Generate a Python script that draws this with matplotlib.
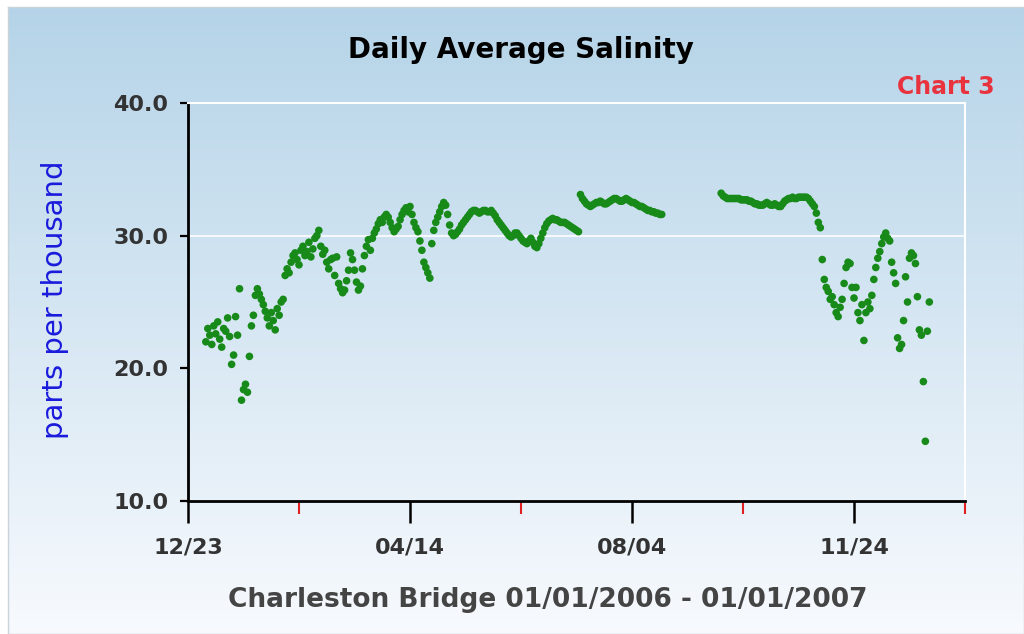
import numpy as np
import matplotlib
matplotlib.use('Agg')
import matplotlib.pyplot as plt
from datetime import datetime

# salinidad diaria (ppt), cada lista empieza en su fecha y sigue dia a dia
ene_feb_inicio = '2006-01-01'
ene_feb = [22.0, 23.0, 22.5, 21.8, 23.2, 22.6, 23.5, 22.2, 21.6, 23.0,
           22.8, 23.8, 22.4, 20.3, 21.0, 23.9, 22.5, 26.0, 17.6, 18.4,
           18.8, 18.2, 20.9, 23.2, 24.0, 25.5, 26.0, 25.6, 25.2, 24.8,
           24.3, 23.8, 23.2, 24.2, 23.6, 22.9, 24.5, 24.0, 25.0, 25.2]

feb_mar_inicio = '2006-02-10'
feb_mar = [27.0, 27.5, 27.2, 28.0, 28.5, 28.7, 28.2, 27.8, 28.9, 29.2,
           28.5, 28.8, 29.5, 28.4, 29.0, 29.8, 30.0, 30.4, 29.2, 28.6,
           28.9, 28.0]

mar_inicio = '2006-03-04'
mar = [27.5, 28.2, 28.3, 27.0, 28.4, 26.4, 26.0, 25.7, 25.9, 26.6,
       27.4, 28.7, 28.2, 27.4, 26.5, 25.9, 26.2, 27.5, 28.5, 29.2,
       29.7, 28.9, 29.8]

abr_may_inicio = '2006-03-27'
abr_may = [30.2, 30.5, 30.9, 31.2, 31.0, 31.4, 31.6, 31.4, 31.0, 30.6,
           30.3, 30.5, 30.7, 31.2, 31.6, 31.9, 32.1, 31.8, 32.2, 31.6,
           31.0, 30.6, 30.3, 29.6, 28.9, 28.0, 27.6, 27.2, 26.8, 29.4,
           30.4, 31.0, 31.4, 31.8, 32.2, 32.5, 32.3, 31.6, 30.8, 30.2,
           30.0, 30.1]

may_jul_inicio = '2006-05-08'
may_jul = [30.3, 30.5, 30.8, 31.0, 31.2, 31.4, 31.6, 31.8, 31.9, 31.9,
           31.8, 31.7, 31.8, 31.9, 31.9, 31.8, 31.8, 31.9, 31.7, 31.5,
           31.2, 31.0, 30.8, 30.6, 30.4, 30.2, 30.0, 29.9, 30.0, 30.2,
           30.2, 30.0, 29.8, 29.6, 29.5, 29.4, 29.6, 29.8, 29.5, 29.2,
           29.1, 29.4, 29.8, 30.2, 30.6, 30.9, 31.1, 31.2, 31.3, 31.2,
           31.2, 31.1, 31.0, 31.0, 31.0, 30.9, 30.8, 30.7, 30.6, 30.5,
           30.4, 30.3]

jul_ago_inicio = '2006-07-09'
jul_ago = [33.1, 32.8, 32.6, 32.4, 32.3, 32.2, 32.3, 32.4, 32.5, 32.5,
           32.6, 32.5, 32.4, 32.4, 32.5, 32.6, 32.7, 32.8, 32.8, 32.7,
           32.6, 32.6, 32.7, 32.8, 32.7, 32.6, 32.5, 32.5, 32.4, 32.3,
           32.2, 32.2, 32.1, 32.0, 31.9, 31.9, 31.8, 31.8, 31.7, 31.7,
           31.6, 31.6]

sep_nov_inicio = '2006-09-18'
sep_nov = [33.2, 33.0, 32.9, 32.8, 32.8, 32.8, 32.8, 32.8, 32.8, 32.8,
           32.7, 32.7, 32.7, 32.7, 32.6, 32.6, 32.5, 32.4, 32.4, 32.3,
           32.3, 32.3, 32.4, 32.5, 32.4, 32.3, 32.3, 32.4, 32.3, 32.2,
           32.2, 32.4, 32.6, 32.7, 32.8, 32.8, 32.9, 32.8, 32.8, 32.9,
           32.9, 32.9, 32.9, 32.9, 32.8, 32.6, 32.4, 32.2, 31.7, 31.0,
           30.6]

nov_dic_inicio = '2006-11-08'
nov_dic = [28.2, 26.7, 26.1, 25.8, 25.2, 25.4, 24.8, 24.2, 23.9, 24.6,
           25.2, 26.4, 27.6, 28.0, 27.9, 26.1, 25.3, 26.1, 24.2, 23.6,
           24.8, 22.1, 24.2, 25.0, 24.5, 25.5, 26.7, 27.6, 28.3, 28.8,
           29.4, 29.9, 30.2, 29.8, 29.6, 28.0, 27.2, 26.4, 22.3, 21.5,
           21.8, 23.6, 26.9, 25.0, 28.3, 28.7, 28.5, 27.9, 25.4, 22.9,
           22.5, 19.0, 14.5, 22.8, 25.0]

tramos = [(ene_feb_inicio, ene_feb), (feb_mar_inicio, feb_mar),
          (mar_inicio, mar), (abr_may_inicio, abr_may),
          (may_jul_inicio, may_jul), (jul_ago_inicio, jul_ago),
          (sep_nov_inicio, sep_nov), (nov_dic_inicio, nov_dic)]

etiquetas_x = ['12/23', '04/14', '08/04', '11/24']
fechas_x = ['2005-12-23', '2006-04-14', '2006-08-04', '2006-11-24']
fechas_menores = ['2006-02-17', '2006-06-09', '2006-09-29', '2007-01-19']
ticks_y = [10, 20, 30, 40]


def Main():
    W, H = 1024, 634
    fig = plt.figure(figsize=(W / 100, H / 100), dpi=100, facecolor='white')

    # fondo con degradado azul -> blanco
    fondo = fig.add_axes([8 / W, 0, 1 - 8 / W, (H - 7) / H])
    arriba = np.array([0.71, 0.83, 0.91])
    abajo = np.array([0.97, 0.98, 0.995])
    g = np.linspace(0, 1, 256)[:, None, None]
    img = arriba * (1 - g) + abajo * g
    fondo.imshow(img, aspect='auto', extent=[0, 1, 0, 1])
    fondo.set_xticks([])
    fondo.set_yticks([])
    for s in fondo.spines.values():
        s.set_color('#c9d3da')
        s.set_linewidth(1)

    ax = fig.add_axes([188 / W, 1 - 501 / H, (965 - 188) / W, (501 - 103) / H])
    ax.patch.set_alpha(0)

    for inicio, valores in tramos:
        fechas = np.datetime64(inicio) + np.arange(len(valores))
        ax.scatter(fechas.astype('datetime64[D]').astype(datetime), valores,
                   s=30, color='#178a19', edgecolors='none', zorder=3)

    ax.axhline(30, color='white', lw=1.3, alpha=0.9, zorder=1)

    ax.set_ylim(10, 40)
    ax.set_xlim(datetime(2005, 12, 23), datetime(2007, 1, 19))
    ax.set_yticks(ticks_y)
    ax.set_yticklabels(['%.1f' % v for v in ticks_y], fontweight='bold',
                       color='#333333', fontsize=16)
    ax.set_xticks([datetime.strptime(f, '%Y-%m-%d') for f in fechas_x])
    ax.set_xticklabels(etiquetas_x, fontweight='bold', color='#333333',
                       fontsize=16)
    ax.set_xticks([datetime.strptime(f, '%Y-%m-%d') for f in fechas_menores],
                  minor=True)

    ax.tick_params(axis='y', direction='out', length=6, width=1.6, pad=8)
    ax.tick_params(axis='x', which='major', direction='out', length=16,
                   width=1.8, pad=10)
    ax.tick_params(axis='x', which='minor', direction='out', length=9,
                   width=1.5, color='#e02020')

    ax.spines['left'].set_linewidth(2)
    ax.spines['bottom'].set_linewidth(2)
    ax.spines['top'].set_color('white')
    ax.spines['right'].set_color('white')
    ax.spines['top'].set_linewidth(1.5)
    ax.spines['right'].set_linewidth(1.5)

    fig.text(521 / W, 1 - 50 / H, 'Daily Average Salinity', ha='center',
             va='center', fontsize=20, fontweight='bold', color='black')
    fig.text(995 / W, 1 - 87 / H, 'Chart 3', ha='right', va='center',
             fontsize=17, fontweight='bold', color='#e8333f')
    fig.text(55 / W, 1 - 300 / H, 'parts per thousand', rotation=90,
             ha='center', va='center', fontsize=21, color='#1a1adc')
    fig.text(548 / W, 1 - 600 / H, 'Charleston Bridge 01/01/2006 - 01/01/2007',
             ha='center', va='center', fontsize=19, fontweight='bold',
             color='#444444')

    fig.savefig('out.png', dpi=100, facecolor='white')


if __name__ == '__main__':
    Main()
